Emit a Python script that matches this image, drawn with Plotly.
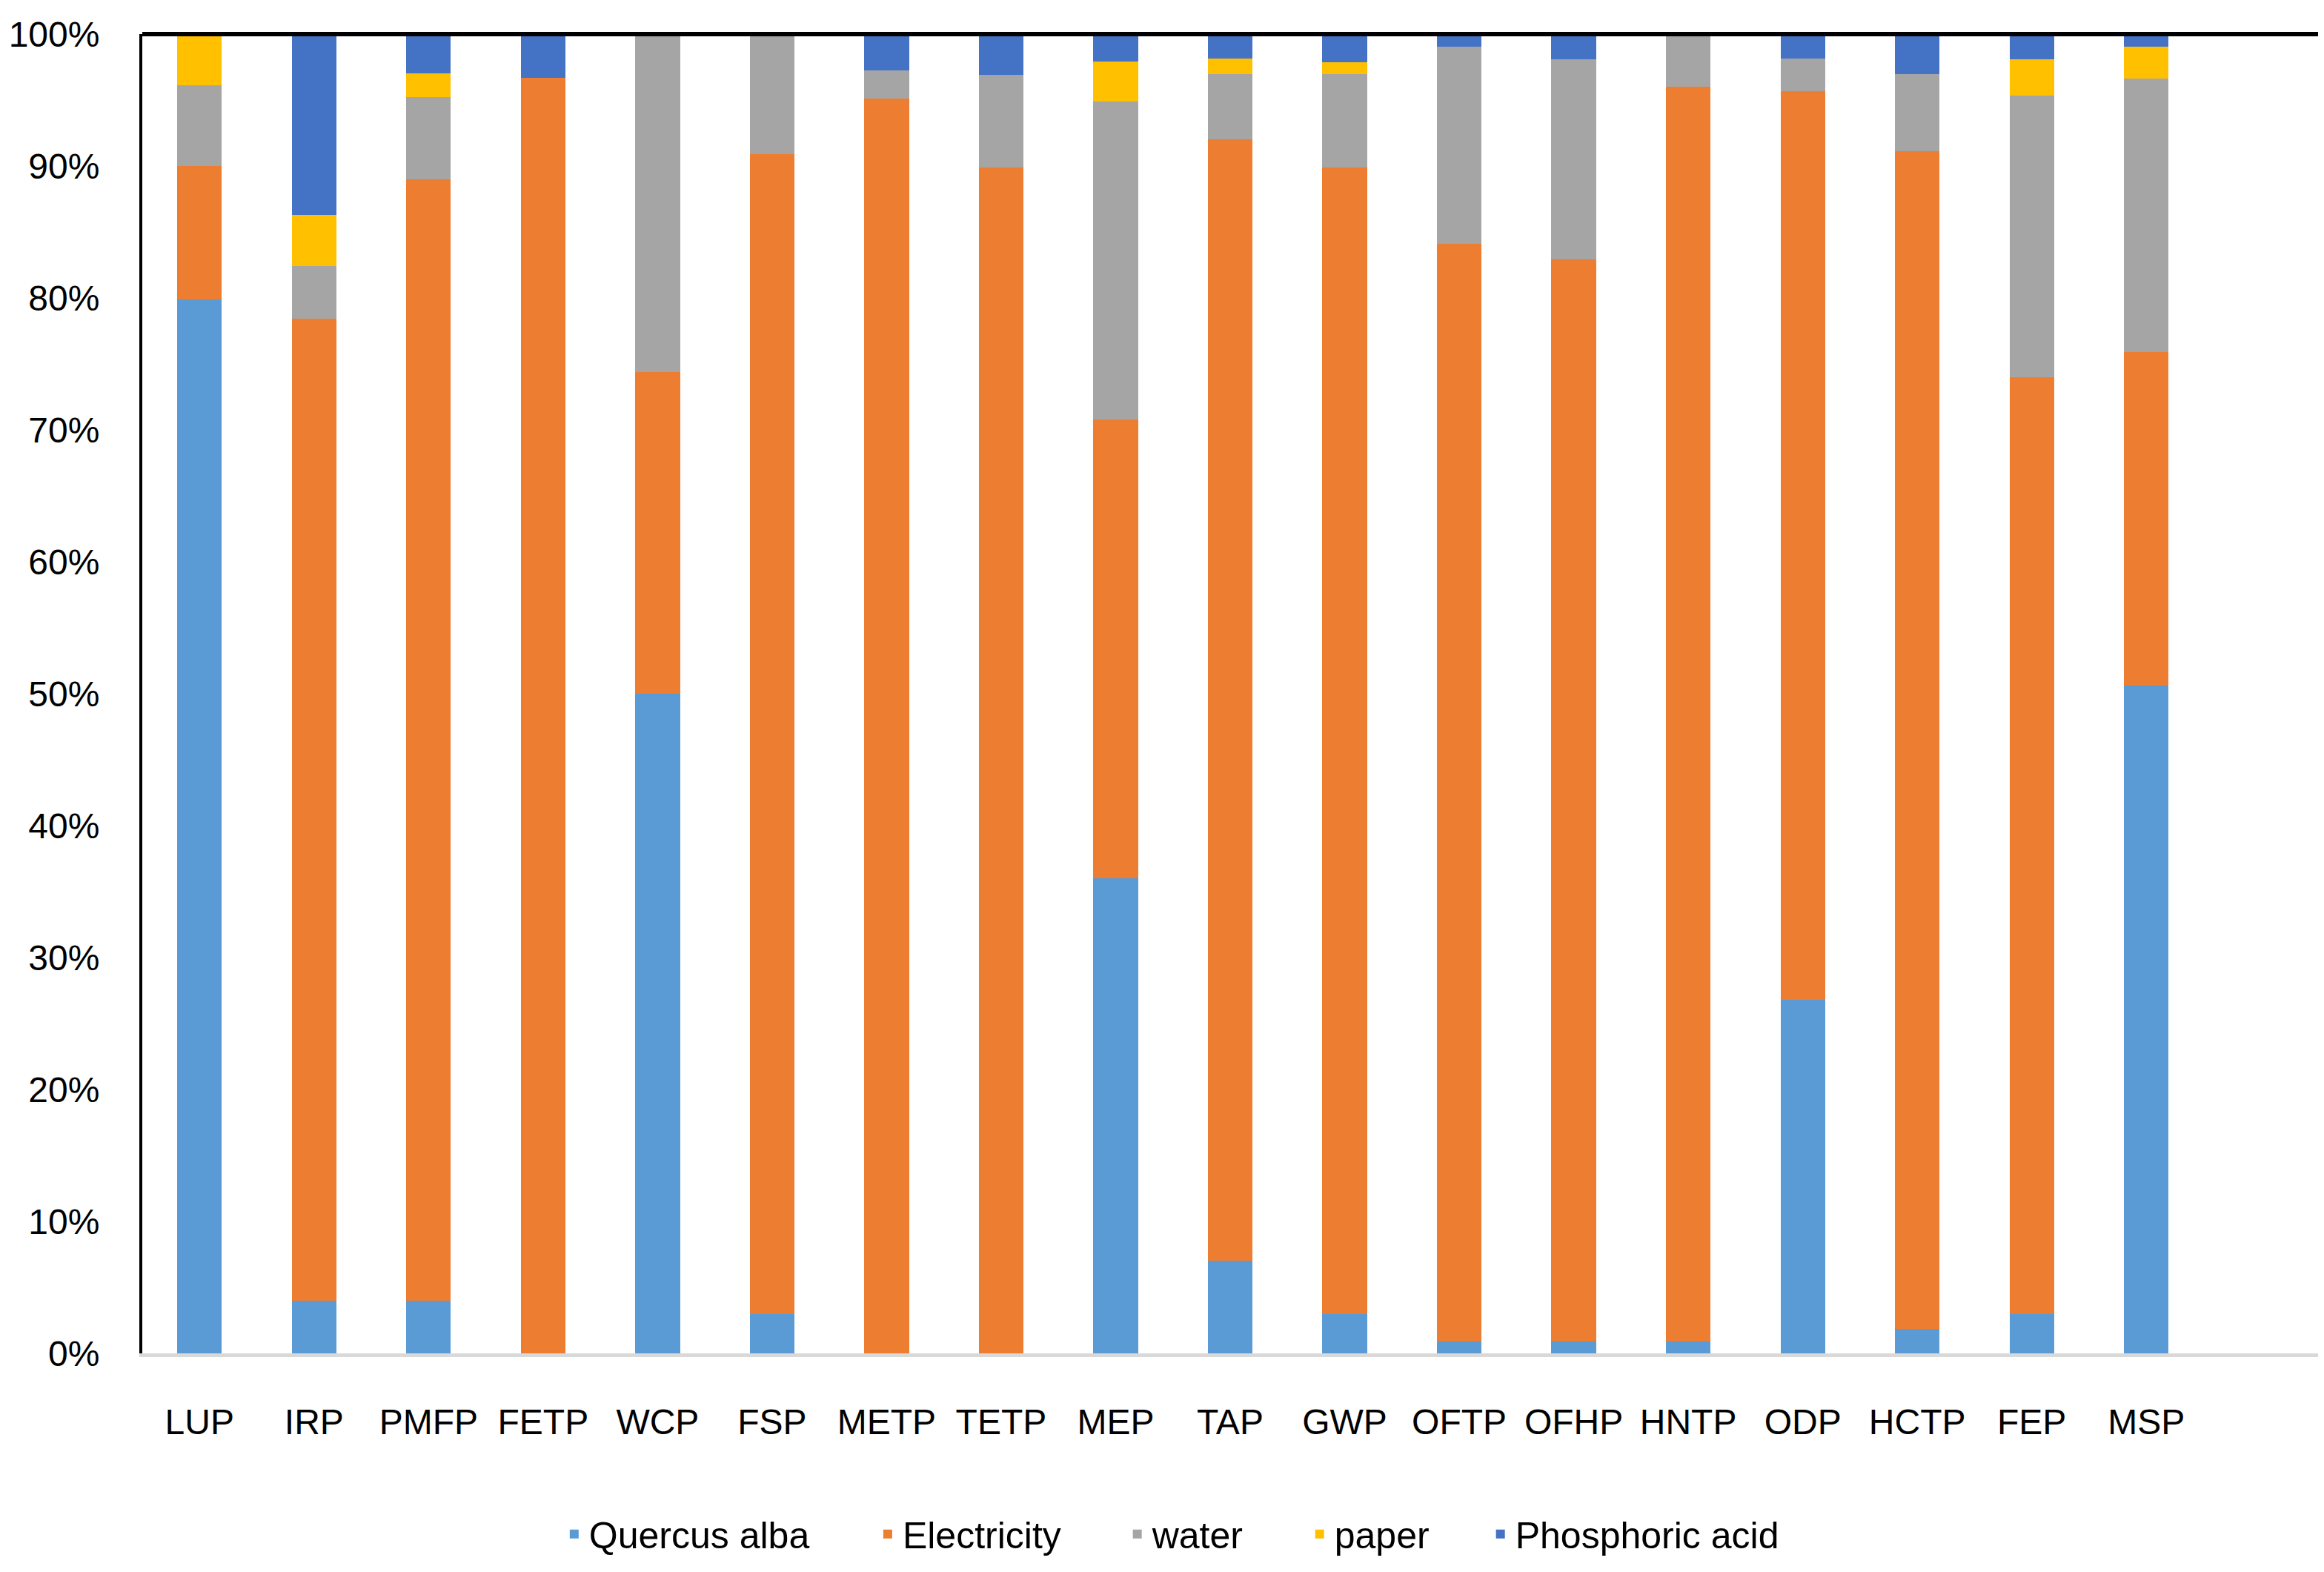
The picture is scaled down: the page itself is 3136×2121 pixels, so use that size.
import plotly.graph_objects as go

categories = ["LUP", "IRP", "PMFP", "FETP", "WCP", "FSP", "METP", "TETP", "MEP",
              "TAP", "GWP", "OFTP", "OFHP", "HNTP", "ODP", "HCTP", "FEP", "MSP"]

quercus_alba = [79.9, 4.0, 4.0, 0.0, 50.0, 3.0, 0.0, 0.0, 36.0,
                7.0, 3.0, 0.9, 0.9, 0.9, 26.8, 1.85, 3.0, 50.6]
electricity = [10.1, 74.4, 85.0, 96.7, 24.4, 87.9, 95.1, 89.9, 34.8,
               85.05, 86.9, 83.2, 82.0, 95.1, 68.9, 89.3, 71.0, 25.3]
water = [6.1, 4.0, 6.2, 0.0, 25.6, 9.1, 2.15, 7.0, 24.1,
         4.9, 7.05, 14.95, 15.2, 3.95, 2.45, 5.8, 21.35, 20.75]
paper = [3.9, 3.9, 1.8, 0.0, 0.0, 0.0, 0.0, 0.0, 3.0,
         1.2, 0.9, 0.0, 0.0, 0.0, 0.0, 0.0, 2.75, 2.4]
phosphoric_acid = [0.0, 13.7, 3.05, 3.3, 0.0, 0.0, 2.75, 3.1, 2.1,
                   1.8, 2.15, 0.95, 1.8, 0.05, 1.85, 3.05, 1.9, 0.95]

series_names = ["Quercus alba", "Electricity", "water", "paper", "Phosphoric acid"]
series_values = [quercus_alba, electricity, water, paper, phosphoric_acid]
series_colors = ["#5B9BD5", "#ED7D31", "#A5A5A5", "#FFC000", "#4472C4"]

y_ticks = list(range(0, 101, 10))
y_tick_labels = [f"{v}%" for v in y_ticks]

FONT = "Liberation Sans, Arial, sans-serif"

# legend anchor positions (paper fraction) for each series' legend box
legend_x = [0.1917, 0.3358, 0.4505, 0.5343, 0.6174]
legend_ids = ["legend", "legend2", "legend3", "legend4", "legend5"]

fig = go.Figure()
for name, vals, col, lid in zip(series_names, series_values, series_colors, legend_ids):
    fig.add_trace(go.Bar(
        x=list(range(len(categories))), y=vals, name=name,
        marker=dict(color=col, line=dict(width=0)),
        width=0.39, legend=lid,
    ))

legend_layout = {}
for lid, lx in zip(legend_ids, legend_x):
    legend_layout[lid] = dict(
        orientation="h", x=lx, xanchor="left", y=-0.137, yanchor="middle",
        font=dict(family=FONT, size=50, color="#000000"),
        bgcolor="rgba(0,0,0,0)", borderwidth=0,
    )

fig.update_layout(
    width=3136, height=2121,
    barmode="stack",
    plot_bgcolor="white", paper_bgcolor="white",
    margin=dict(l=184, r=16, t=38, b=303),
    font=dict(family=FONT, size=48, color="#000000"),
    showlegend=True,
    xaxis=dict(
        range=[-0.5, 18.5],
        tickmode="array", tickvals=list(range(len(categories))), ticktext=categories,
        showgrid=False, zeroline=False,
        showline=True, linecolor="#D9D9D9", linewidth=5,
        ticks="", ticklabelstandoff=46, automargin=False,
        tickfont=dict(family=FONT, size=48, color="#000000"),
    ),
    yaxis=dict(
        range=[0, 100],
        tickmode="array", tickvals=y_ticks, ticktext=y_tick_labels,
        showgrid=False, zeroline=False,
        showline=True, linecolor="#000000", linewidth=4, mirror=True,
        ticks="", ticklabelstandoff=44, automargin=False,
        tickfont=dict(family=FONT, size=48, color="#000000"),
    ),
    shapes=[dict(type="line", xref="paper", yref="paper", x0=0, x1=1, y0=1, y1=1,
                 line=dict(color="#000000", width=6), layer="above")],
    **legend_layout,
)

fig.write_html("out.html")
